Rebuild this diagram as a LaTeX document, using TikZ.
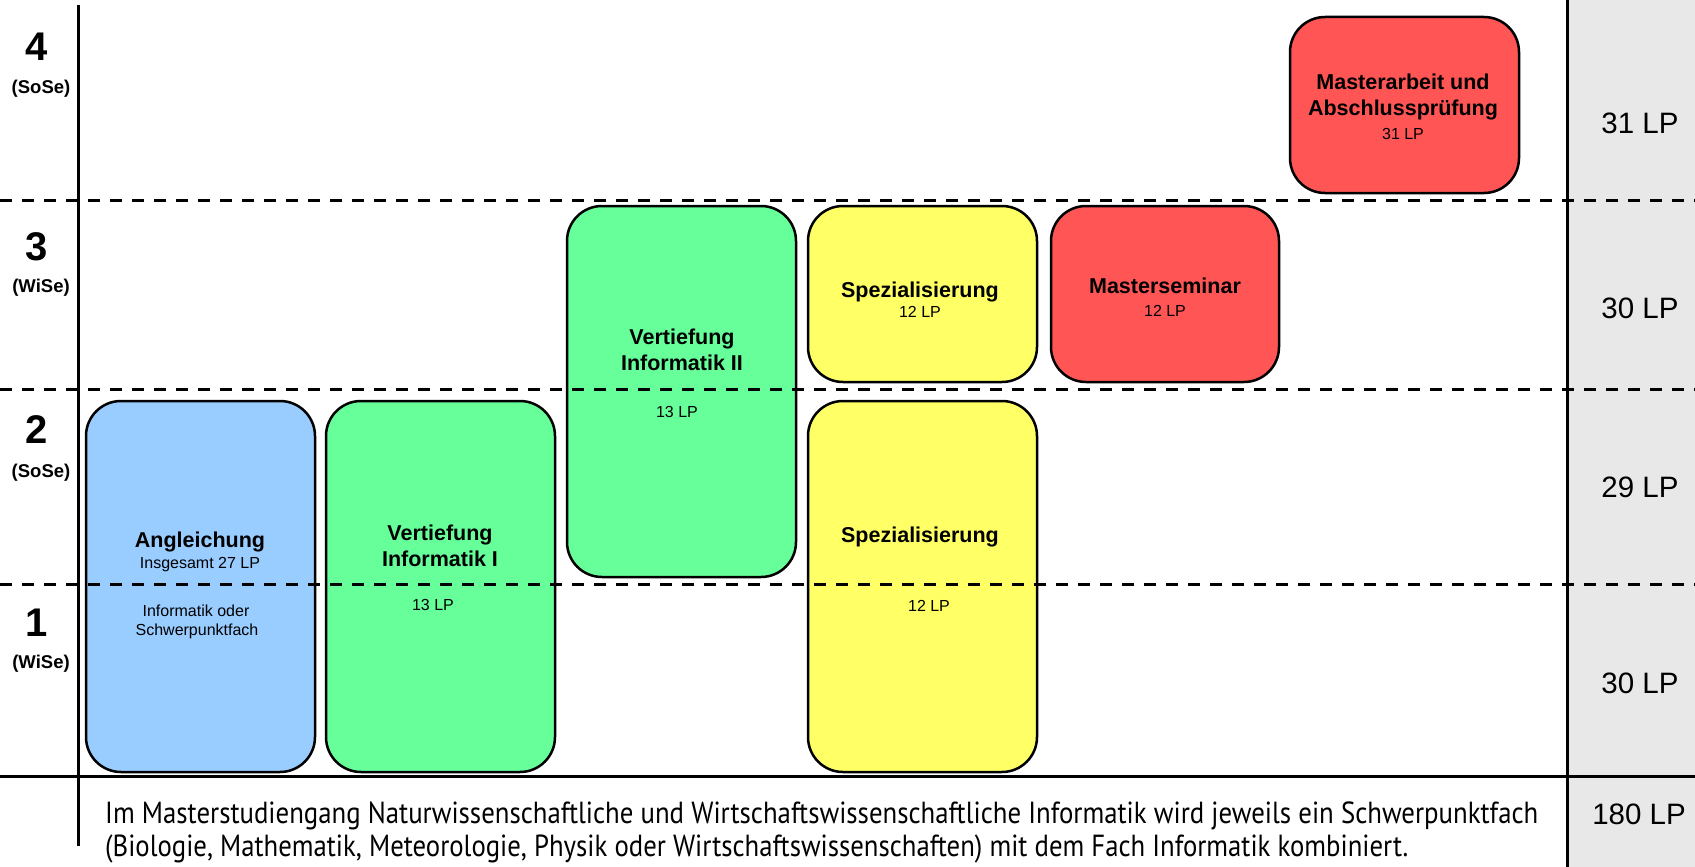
\documentclass[tikz,border=0pt]{standalone}
\usepackage{fontspec}
\setmainfont{Liberation Sans}
\newfontfamily\notefont{PT Sans}
\usepackage{graphicx}
\definecolor{cblue}{HTML}{99CCFF}
\definecolor{cgreen}{HTML}{66FF99}
\definecolor{cyellow}{HTML}{FFFF66}
\definecolor{cred}{HTML}{FF5555}
\definecolor{cgray}{HTML}{E8E8E8}
\begin{document}
\begin{tikzpicture}[x=1pt,y=-1pt,
 modbox/.style={draw=black, line width=2.5pt, rounded corners=35pt, inner sep=0pt},
 title/.style={font=\fontsize{21.5}{26}\selectfont\bfseries, anchor=base, inner sep=0pt},
 small/.style={font=\fontsize{16}{19}\selectfont, anchor=base, inner sep=0pt},
 semnum/.style={font=\fontsize{40}{40}\selectfont\bfseries, anchor=base, inner sep=0pt},
 semname/.style={font=\fontsize{18.5}{20}\selectfont\bfseries, anchor=base, inner sep=0pt},
 lp/.style={font=\fontsize{29.5}{32}\selectfont, anchor=base, inner sep=0pt},
 sepline/.style={line width=3pt, dash pattern=on 12pt off 10pt},
 axisline/.style={line width=3pt}
]
\useasboundingbox (0,0) rectangle (1695,867);
\fill[white] (0,0) rectangle (1695,867);
\fill[cgray] (1567,0) rectangle (1695,867);

% module boxes
\node[modbox, fill=cblue,   minimum width=229pt, minimum height=371pt] (ang) at (200.5,586.5) {};
\node[modbox, fill=cgreen,  minimum width=229pt, minimum height=371pt] (vt1) at (440.5,586.5) {};
\node[modbox, fill=cgreen,  minimum width=229pt, minimum height=371pt] (vt2) at (681.5,391.5) {};
\node[modbox, fill=cyellow, minimum width=229pt, minimum height=371pt] (spa) at (922.5,586.5) {};
\node[modbox, fill=cyellow, minimum width=229pt, minimum height=176pt] (spb) at (922.5,294) {};
\node[modbox, fill=cred,    minimum width=228pt, minimum height=176pt] (msem) at (1165,294) {};
\node[modbox, fill=cred,    minimum width=229pt, minimum height=176pt] (mab) at (1404.5,105) {};

% semester separators
\draw[sepline] (0,200) -- (1695,200);
\draw[sepline] (0,389) -- (1695,389);
\draw[sepline] (0,584) -- (1695,584);

% axes
\draw[axisline] (78,5) -- (78,846);
\draw[axisline] (0,776) -- (1695,776);
\draw[axisline] (1567,0) -- (1567,867);

% semester labels
\node[semnum]  (s4) at (37,60) {4};
\node[semname] (s4n) at (41,93) {(SoSe)};
\node[semnum]  (s3) at (37,260) {3};
\node[semname] (s3n) at (41,292) {(WiSe)};
\node[semnum]  (s2) at (37,443) {2};
\node[semname] (s2n) at (41,477) {(SoSe)};
\node[semnum]  (s1) at (37,636) {1};
\node[semname] (s1n) at (41,668) {(WiSe)};

% box texts
\node[title] (angt) at (200,547) {Angleichung};
\node[small] (angs) at (200,568) {Insgesamt 27 LP};
\node[small] (angi) at (196,616) {Informatik oder};
\node[small] (angf) at (197,635) {Schwerpunktfach};

\node[title] (vt1a) at (440,540) {Vertiefung};
\node[title] (vt1b) at (440,566) {Informatik I};
\node[small] (vt1c) at (433,610) {13 LP};

\node[title] (vt2a) at (682,344) {Vertiefung};
\node[title] (vt2b) at (682,370) {Informatik II};
\node[small] (vt2c) at (677,417) {13 LP};

\node[title] (spat) at (920,542) {Spezialisierung};
\node[small] (spal) at (929,611) {12 LP};

\node[title] (spbt) at (920,297) {Spezialisierung};
\node[small] (spbl) at (920,317) {12 LP};

\node[title] (msemt) at (1165,293) {Masterseminar};
\node[small] (mseml) at (1165,316) {12 LP};

\node[title] (maba) at (1403,89) {Masterarbeit und};
\node[title] (mabb) at (1403,115) {Abschlussprüfung};
\node[small] (mabc) at (1403,139) {31 LP};

% credit points column
\node[lp] (lp4) at (1640,133) {31 LP};
\node[lp] (lp3) at (1640,318) {30 LP};
\node[lp] (lp2) at (1640,497) {29 LP};
\node[lp] (lp1) at (1640,693) {30 LP};
\node[lp] (lpt) at (1639,824) {180 LP};

% note
\node[anchor=base west, inner sep=0pt] (note1) at (105,823) {\resizebox{1433pt}{\height}{\notefont\fontsize{30.5}{34}\selectfont Im Masterstudiengang Naturwissenschaftliche und Wirtschaftswissenschaftliche Informatik wird jeweils ein Schwerpunktfach}};
\node[anchor=base west, inner sep=0pt] (note2) at (105,856) {\resizebox{1303pt}{\height}{\notefont\fontsize{30.5}{34}\selectfont (Biologie, Mathematik, Meteorologie, Physik oder Wirtschaftswissenschaften) mit dem Fach Informatik kombiniert.}};
\end{tikzpicture}
\end{document}
